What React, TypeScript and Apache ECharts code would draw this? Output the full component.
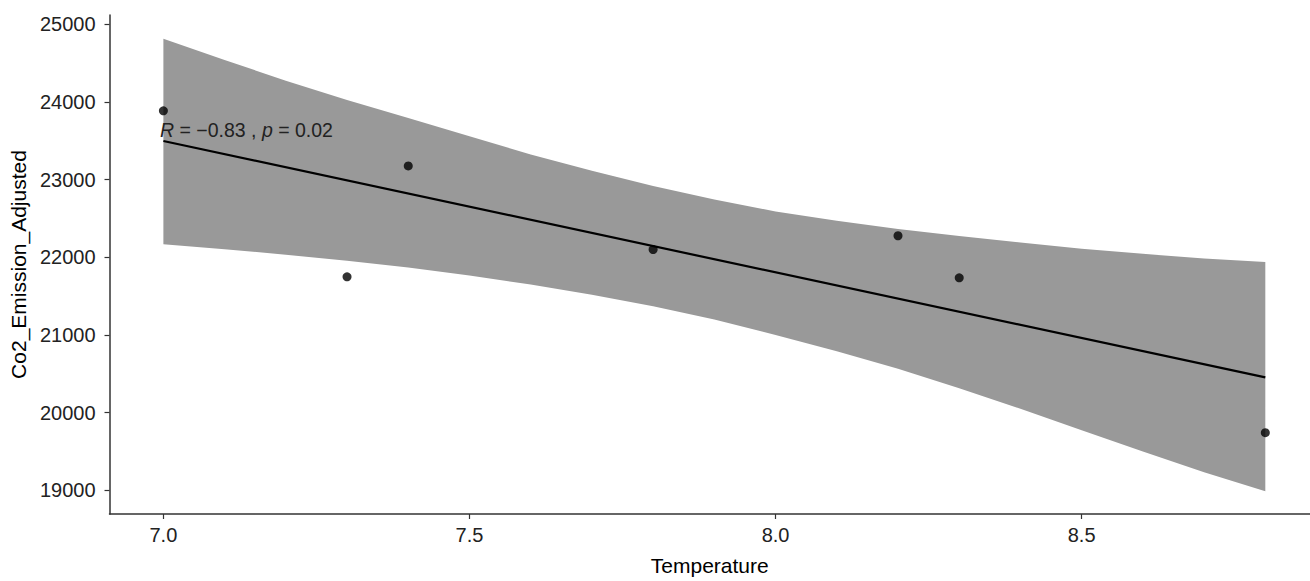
import React, { useEffect, useRef } from "react";
import * as echarts from "echarts";

// Observed points
const tempValues = [7.0, 7.3, 7.4, 7.8, 8.2, 8.3, 8.8];
const co2Values = [23887, 21749, 23177, 22100, 22278, 21736, 19743];

// Fitted line
const fitX = [7.0, 8.8];
const fitY = [23498, 20454];

// Confidence band
const bandX = [7.0, 7.1, 7.2, 7.3, 7.4, 7.5, 7.6, 7.7, 7.8, 7.9, 8.0, 8.1, 8.2, 8.3, 8.4, 8.5, 8.6, 8.7, 8.8];
const bandUpper = [24815, 24540, 24275, 24025, 23795, 23560, 23325, 23115, 22920, 22745, 22590, 22470, 22365, 22275, 22190, 22110, 22045, 21985, 21940];
const bandLower = [22170, 22105, 22035, 21955, 21868, 21765, 21650, 21520, 21372, 21200, 21000, 20790, 20565, 20315, 20050, 19775, 19500, 19235, 18990];

// Tick labels
const xTicks = [7.0, 7.5, 8.0, 8.5];
const yTicks = [19000, 20000, 21000, 22000, 23000, 24000, 25000];

const FONT = "'Liberation Sans', Arial, sans-serif";

export default function App() {
  const ref = useRef<HTMLDivElement>(null);

  useEffect(() => {
    if (!ref.current) return;
    const chart = echarts.init(ref.current, undefined, { renderer: "svg" });

    const option: any = {
      animation: false,
      backgroundColor: "#ffffff",
      textStyle: { fontFamily: FONT },
      grid: { left: 106, right: 0, top: 15, bottom: 59, containLabel: false },
      xAxis: {
        type: "value",
        min: 6.912,
        max: 8.873,
        splitLine: { show: false },
        axisLine: { show: true, lineStyle: { color: "#333333", width: 1.5 } },
        axisTick: { show: true, length: 5, customValues: xTicks, lineStyle: { color: "#333333", width: 1.2 } },
        axisLabel: {
          customValues: xTicks,
          formatter: (v: number) => v.toFixed(1),
          fontSize: 20,
          color: "#222222",
          margin: 11,
          fontFamily: FONT,
        },
        name: "Temperature",
        nameLocation: "middle",
        nameGap: 41,
        nameTextStyle: { fontSize: 21, color: "#000000", fontFamily: FONT },
      },
      yAxis: {
        type: "value",
        min: 18696,
        max: 25120,
        splitLine: { show: false },
        axisLine: { show: true, lineStyle: { color: "#333333", width: 1.5 } },
        axisTick: { show: true, length: 5, customValues: yTicks, lineStyle: { color: "#333333", width: 1.2 } },
        axisLabel: {
          customValues: yTicks,
          formatter: (v: number) => String(v),
          fontSize: 20,
          color: "#222222",
          margin: 14,
          fontFamily: FONT,
        },
        name: "Co2_Emission_Adjusted",
        nameLocation: "middle",
        nameGap: 74,
        nameTextStyle: { fontSize: 21, color: "#000000", fontFamily: FONT },
      },
      series: [
        {
          type: "custom",
          name: "band",
          z: 1,
          silent: true,
          data: bandX.map((x, i) => [x, bandUpper[i], bandLower[i]]),
          encode: { x: 0, y: [1, 2] },
          renderItem: (params: any, api: any) => {
            if (params.dataIndex !== 0) return null;
            const pts: number[][] = [];
            for (let i = 0; i < bandX.length; i++) pts.push(api.coord([bandX[i], bandUpper[i]]));
            for (let i = bandX.length - 1; i >= 0; i--) pts.push(api.coord([bandX[i], bandLower[i]]));
            return {
              type: "polygon",
              shape: { points: pts },
              style: { fill: "#999999", stroke: "none" },
            };
          },
        },
        {
          type: "line",
          name: "fit",
          z: 2,
          data: fitX.map((x, i) => [x, fitY[i]]),
          showSymbol: false,
          lineStyle: { color: "#000000", width: 2.2 },
          silent: true,
        },
        {
          type: "scatter",
          name: "points",
          z: 3,
          data: tempValues.map((x, i) => [x, co2Values[i]]),
          symbolSize: 9,
          itemStyle: { color: "#000000" },
        },
      ],
      graphic: [
        {
          type: "text",
          left: 160,
          top: 120,
          z: 10,
          style: {
            text: "{i|R} = −0.83 , {i|p} = 0.02",
            fill: "#222222",
            font: `19.5px ${FONT}`,
            rich: {
              i: { fontStyle: "italic", fontSize: 19.5, fontFamily: FONT, fill: "#222222" },
            },
          },
        },
      ],
    };

    chart.setOption(option);
    return () => chart.dispose();
  }, []);

  return (
    <div
      ref={ref}
      style={{ position: "fixed", left: 0, top: 0, width: 1310, height: 581 }}
    />
  );
}
